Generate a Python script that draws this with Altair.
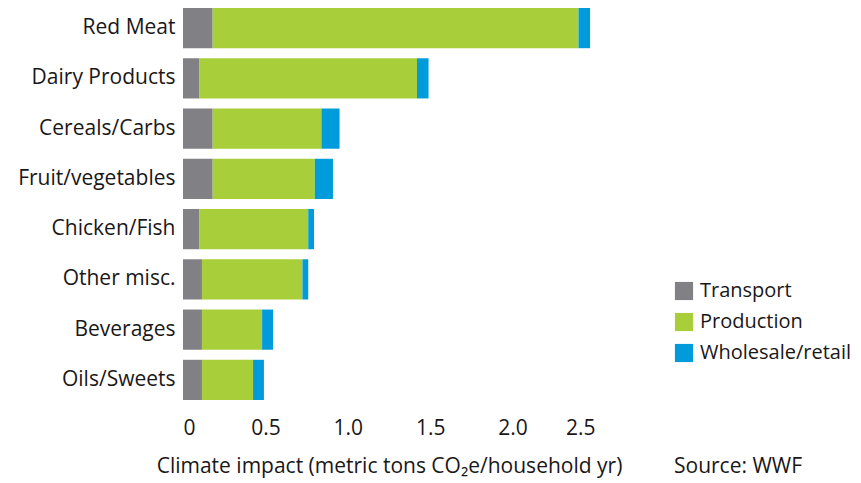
import altair as alt
import pandas as pd

categories = ["Red Meat", "Dairy Products", "Cereals/Carbs", "Fruit/vegetables",
              "Chicken/Fish", "Other misc.", "Beverages", "Oils/Sweets"]
transport = [0.18, 0.10, 0.18, 0.18, 0.10, 0.115, 0.115, 0.115]
production = [2.22, 1.32, 0.66, 0.62, 0.66, 0.61, 0.365, 0.31]
wholesale = [0.07, 0.07, 0.11, 0.11, 0.035, 0.035, 0.066, 0.066]
series = ["Transport", "Production", "Wholesale/retail"]
colors = ["#808085", "#A8CE3A", "#009BDB"]
x_ticks = [0, 0.5, 1.0, 1.5, 2.0, 2.5]

rows = []
for i, c in enumerate(categories):
    for k, (s, vals) in enumerate(zip(series, [transport, production, wholesale])):
        rows.append({"category": c, "series": s, "value": vals[i], "order": k})
df = pd.DataFrame(rows)

FONT = "Open Sans"
TXT = "#1A1718"
FS = 21

bars = alt.Chart(df).mark_bar().encode(
    y=alt.Y("category:N", sort=categories,
            scale=alt.Scale(paddingInner=0.2, paddingOuter=0),
            axis=alt.Axis(title=None, domain=False, ticks=False, labelFont=FONT,
                          labelFontSize=FS, labelColor=TXT, labelPadding=8)),
    x=alt.X("value:Q", stack="zero",
            scale=alt.Scale(domain=[0, 2.5], nice=False),
            axis=alt.Axis(values=x_ticks, format=".1f", labelExpr="datum.value == 0 ? '0' : datum.label",
                          title="Climate impact (metric tons CO₂e/household yr)",
                          domain=False, ticks=False, grid=False, labelFont=FONT,
                          labelFontSize=FS, labelColor=TXT, labelPadding=17,
                          titleFont=FONT, titleFontSize=FS, titleFontWeight="normal",
                          titleColor=TXT, titlePadding=17)),
    color=alt.Color("series:N", sort=series,
                    scale=alt.Scale(domain=series, range=colors),
                    legend=alt.Legend(title=None, orient="none", legendX=491, legendY=273,
                                      symbolType="square", symbolSize=330, symbolStrokeWidth=0,
                                      labelFont=FONT, labelFontSize=FS - 1, labelColor=TXT,
                                      rowPadding=11, labelOffset=6)),
    order=alt.Order("order:Q"),
)

source = alt.Chart(pd.DataFrame({"t": ["Source: WWF"]})).mark_text(
    align="left", baseline="middle", font=FONT, fontSize=FS, color=TXT
).encode(text="t:N", x=alt.value(491), y=alt.value(459))

chart = alt.layer(bars, source).properties(
    width=412, height=392,
    background="white",
    autosize=alt.AutoSizeParams(type="none"),
    padding={"left": 175, "top": 0, "right": 258, "bottom": 81},
).configure_view(stroke=None)

chart.save("out.html", embed_options={"renderer": "svg", "actions": False})
